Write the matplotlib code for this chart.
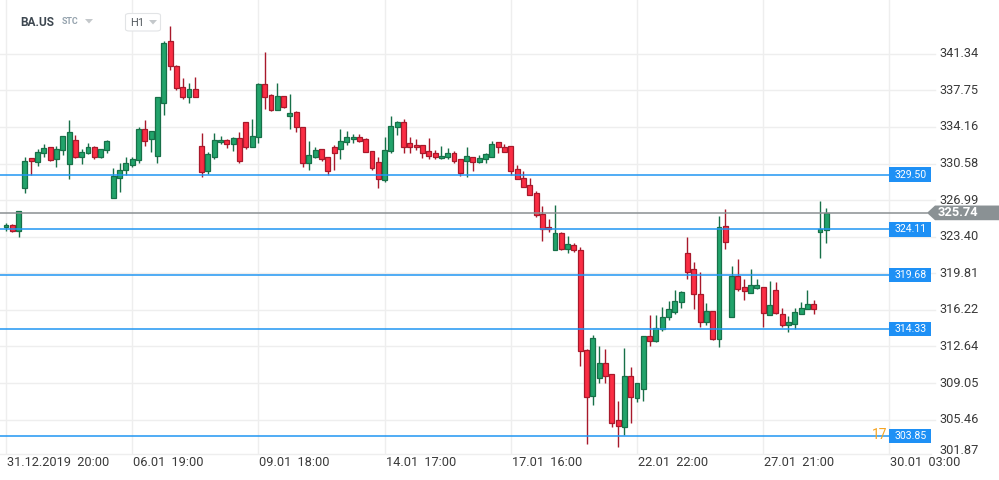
import matplotlib
matplotlib.use("Agg")
import matplotlib.pyplot as plt
from matplotlib.patches import Rectangle, Polygon, FancyBboxPatch
from matplotlib.transforms import blended_transform_factory

plt.rcParams['font.family'] = ['Roboto', 'DejaVu Sans']

# ---------------- data ----------------
symbol = "BA.US"
timeframe = "H1"
opens = [324.33, 324.52, 323.93, 328.15, 331.09, 330.70, 331.58, 332.17, 330.99, 331.87,
         330.50, 332.88, 331.25, 331.58, 332.17, 331.19, 331.87, 327.17, 329.13, 329.91,
         330.40, 330.92, 333.93, 332.95, 331.35, 336.48, 342.56, 340.11, 338.05, 337.13,
         337.86, 332.27, 329.87, 331.25, 332.66, 332.88, 332.46, 333.05, 334.62, 332.23,
         333.15, 338.37, 337.30, 335.80, 337.20, 335.27, 335.63, 334.13, 330.60, 331.25,
         331.97, 331.22, 332.17, 331.97, 332.72, 332.95, 333.15, 332.98, 331.78, 330.70,
         328.96, 331.78, 334.13, 334.65, 332.56, 332.36, 332.36, 331.78, 331.58, 331.09,
         331.19, 331.58, 330.99, 330.86, 331.19, 330.70, 330.99, 331.25, 332.66, 332.17,
         332.27, 330.01, 329.13, 328.44, 327.66, 325.63, 324.33, 322.07, 323.74, 322.17,
         322.56, 322.07, 312.30, 307.82, 309.58, 310.99, 309.91, 305.43, 304.78, 309.75,
         307.56, 308.44, 313.67, 313.21, 314.38, 315.56, 316.05, 317.03, 321.78, 320.21,
         317.76, 315.01, 316.09, 313.34, 324.45, 315.50, 319.58, 318.44, 317.91, 318.40,
         318.50, 315.76, 318.18, 315.80, 314.78, 314.87, 315.85, 316.29, 316.78, 323.89,
         324.06]
highs = [324.72, 324.65, 325.95, 331.25, 331.09, 332.00, 332.49, 332.17, 332.30, 333.25,
         334.85, 333.37, 332.00, 332.56, 332.30, 332.03, 332.88, 330.17, 330.60, 331.25,
         331.25, 334.13, 334.85, 333.74, 337.07, 342.56, 344.06, 340.20, 338.93, 338.44,
         339.03, 333.54, 331.68, 333.54, 333.31, 332.98, 333.21, 333.64, 334.62, 334.91,
         338.44, 341.51, 337.39, 338.44, 337.20, 337.36, 335.76, 334.13, 332.79, 332.17,
         331.97, 331.22, 332.39, 333.93, 333.77, 333.47, 333.47, 333.05, 331.78, 331.19,
         333.15, 335.24, 334.78, 334.91, 333.15, 332.98, 332.36, 333.08, 331.90, 332.30,
         332.10, 331.78, 330.99, 332.17, 331.19, 331.38, 331.58, 332.76, 332.66, 332.49,
         332.27, 330.46, 329.82, 329.13, 327.88, 326.41, 325.14, 326.51, 323.83, 323.47,
         322.76, 322.39, 312.42, 313.77, 312.69, 312.39, 309.91, 307.30, 312.49, 310.66,
         309.03, 313.67, 315.73, 315.73, 316.48, 317.10, 318.18, 318.08, 323.40, 320.95,
         319.94, 316.87, 316.09, 325.43, 326.12, 320.53, 321.22, 319.26, 320.24, 319.26,
         318.50, 319.09, 318.96, 316.41, 315.63, 316.38, 317.00, 318.18, 317.20, 326.90,
         326.22]
lows = [323.99, 323.86, 323.34, 327.72, 329.45, 330.34, 331.25, 330.86, 330.27, 331.41,
        329.03, 331.09, 330.50, 331.51, 330.99, 331.09, 331.64, 327.17, 327.82, 329.45,
        330.27, 330.60, 332.33, 331.74, 330.66, 335.36, 339.78, 337.80, 336.93, 336.48,
        337.07, 329.23, 329.55, 330.99, 332.49, 332.07, 331.84, 330.66, 332.03, 332.23,
        332.62, 335.95, 335.76, 335.80, 336.02, 333.99, 333.70, 330.27, 329.94, 331.09,
        330.86, 329.42, 329.94, 331.05, 332.39, 332.56, 332.72, 331.74, 329.94, 328.21,
        328.80, 331.58, 333.40, 331.64, 331.58, 331.90, 331.09, 331.02, 331.05, 330.99,
        330.99, 330.66, 329.35, 329.29, 329.87, 330.60, 330.66, 331.25, 331.64, 331.74,
        329.45, 329.03, 328.31, 327.52, 325.36, 323.01, 323.89, 322.07, 322.10, 321.84,
        321.93, 310.73, 303.08, 306.90, 309.09, 309.09, 304.78, 302.82, 303.96, 305.17,
        307.23, 307.33, 312.69, 313.11, 314.19, 315.24, 315.83, 316.44, 319.29, 316.32,
        314.58, 314.75, 313.30, 312.62, 322.20, 315.50, 318.11, 317.20, 317.91, 318.28,
        314.58, 315.76, 315.83, 314.52, 314.09, 314.38, 315.80, 316.29, 315.83, 321.35,
        322.82]
closes = [324.55, 323.93, 325.89, 330.80, 330.80, 331.68, 332.07, 330.92, 331.97, 333.25,
          333.64, 331.25, 331.68, 332.17, 331.19, 331.97, 332.76, 329.33, 329.91, 330.60,
          330.99, 333.93, 332.82, 333.74, 337.07, 342.36, 340.11, 337.95, 337.13, 337.86,
          337.13, 329.78, 331.48, 332.88, 332.88, 332.46, 333.05, 330.86, 332.23, 333.25,
          338.37, 337.13, 335.83, 337.20, 336.15, 335.50, 334.19, 330.60, 331.38, 331.90,
          331.05, 329.87, 331.64, 332.79, 333.15, 333.15, 332.79, 331.74, 330.11, 329.03,
          331.90, 334.26, 334.65, 332.17, 332.23, 332.17, 331.58, 331.35, 331.19, 331.32,
          331.58, 330.86, 329.68, 331.32, 330.76, 331.09, 331.48, 332.46, 332.17, 331.74,
          329.87, 329.03, 328.31, 327.52, 325.56, 324.13, 324.13, 323.74, 322.17, 322.66,
          322.07, 312.17, 307.72, 313.44, 310.99, 309.78, 305.17, 304.87, 309.75, 307.72,
          309.03, 313.67, 313.21, 314.42, 315.56, 316.29, 317.07, 317.95, 319.97, 317.76,
          315.01, 316.09, 313.34, 324.33, 322.91, 319.58, 318.31, 318.11, 318.64, 318.64,
          315.89, 316.68, 315.89, 314.78, 315.04, 315.99, 316.41, 316.78, 316.35, 324.13,
          325.74]

price_ticks = [341.34, 337.75, 334.16, 330.58, 326.99, 323.40, 319.81, 316.22,
               312.64, 309.05, 305.46, 301.87]
time_labels = ["31.12.2019  20:00", "06.01  19:00", "09.01  18:00", "14.01  17:00",
               "17.01  16:00", "22.01  22:00", "27.01  21:00", "30.01  03:00"]
label_step = 20
levels = [329.50, 324.11, 319.68, 314.33, 303.85]
last_price = 325.74

# ---------------- style ----------------
W, H = 999, 480
AX_W, AX_H = 889, 454
green_fill, green_edge = '#22a36b', '#177048'
red_fill, red_edge = '#fb2d44', '#a8192b'
grid_c = '#eeeeee'
level_c = '#2196f3'
text_c = '#3a3a3a'

fig = plt.figure(figsize=(W / 100, H / 100), dpi=100)
ax = fig.add_axes([0, (H - AX_H) / H, AX_W / W, AX_H / H])
px_per_bar = 6.31
x_left = -6 / px_per_bar
x_right = x_left + AX_W / px_per_bar
ax.set_xlim(x_left, x_right)
y_top, y_bot = 346.61, 302.10
ax.set_ylim(y_bot, y_top)
for s in ax.spines.values():
    s.set_visible(False)
ax.set_xticks([])
ax.set_yticks([])

bt = blended_transform_factory(ax.transAxes, ax.transData)   # x axes, y data
bx = blended_transform_factory(ax.transData, ax.transAxes)   # x data, y axes

# horizontal grid lines (extend into price scale area)
grid_ext = 935 / AX_W
for p in price_ticks:
    if y_bot < p < y_top:
        ax.plot([0, grid_ext], [p, p], transform=bt, color=grid_c, lw=1, zorder=0, clip_on=False)
# bottom boundary
ax.plot([0, 931 / AX_W], [0, 0], transform=ax.transAxes, color=grid_c, lw=1, zorder=0, clip_on=False)
# vertical grid lines
for k in range(len(time_labels) - 1):
    ax.axvline(k * label_step, color=grid_c, lw=1, zorder=0)
ax.plot([1, 1], [0, 1], transform=ax.transAxes, color=grid_c, lw=1, zorder=0, clip_on=False)

# candles
n = len(opens)
bw = 0.78
for i in range(n):
    o, h, l, c = opens[i], highs[i], lows[i], closes[i]
    up = c >= o
    fc = green_fill if up else red_fill
    ec = green_edge if up else red_edge
    ax.plot([i, i], [l, h], color=ec, lw=1.0, zorder=2, solid_capstyle='butt')
    lo, hi = min(o, c), max(o, c)
    hgt = max(hi - lo, 0.12)
    ax.add_patch(Rectangle((i - bw / 2, lo), bw, hgt, facecolor=fc, edgecolor=ec,
                           lw=0.9, zorder=3))

# level lines with blue tags
for lv in levels:
    ax.plot([0, 1], [lv, lv], transform=bt, color=level_c, lw=1.1, zorder=4, clip_on=False)
    ax.add_patch(Rectangle((1.0005, lv - 0.70), 42 / AX_W, 1.40, transform=bt,
                           facecolor='#1e90f5', edgecolor='none', zorder=6, clip_on=False))
    ax.text(1.0005 + 21 / AX_W, lv, f"{lv:.2f}", transform=bt, color='white',
            fontsize=7.6, ha='center', va='center', zorder=7, clip_on=False)

# orange label next to the lowest level
ax.text(0.998, levels[-1] + 0.1, "17", transform=bt, color='#f5a524', fontsize=10,
        ha='right', va='center', zorder=7, clip_on=False)

# last price line and tag
ax.plot([0, 927 / AX_W], [last_price, last_price], transform=bt, color='#8a8f92',
        lw=1.1, zorder=4, clip_on=False)
tip = 927 / AX_W
body = 935 / AX_W
end = W / AX_W
hh = 0.72
ax.add_patch(Polygon([(tip, last_price), (body, last_price + hh), (end, last_price + hh),
                      (end, last_price - hh), (body, last_price - hh)], closed=True,
                     transform=bt, facecolor='#8a9194', edgecolor='none', zorder=6, clip_on=False))
ax.text(938 / AX_W, last_price, f"{last_price:.2f}", transform=bt, color='white',
        fontsize=9.3, fontweight='bold', ha='left', va='center', zorder=7, clip_on=False)

# price scale labels
for p in price_ticks:
    yp = max(p, y_bot + 0.3)
    ax.text(939 / AX_W, yp, f"{p:.2f}", transform=bt, color=text_c, fontsize=9.2,
            ha='left', va='center', zorder=5, clip_on=False)

# time labels
for k, lab in enumerate(time_labels):
    ax.text(k * label_step + 0.15, -9 / AX_H, lab, transform=bx, color=text_c,
            fontsize=9.2, ha='left', va='center', clip_on=False)

# header
fig.text(20 / W, 1 - 22 / H, symbol, color='#3d4750', fontsize=8.6, fontweight='bold',
         ha='left', va='center')
fig.text(62 / W, 1 - 22 / H, "STC", color='#95a3ae', fontsize=6.4, fontweight='bold',
         ha='left', va='center')
fig.patches.append(Polygon([(85 / W, 1 - 19 / H), (93 / W, 1 - 19 / H), (89 / W, 1 - 23.5 / H)],
                           closed=True, transform=fig.transFigure, facecolor='#c4c8cb',
                           edgecolor='none'))
fig.patches.append(FancyBboxPatch((125.5 / W, 1 - 31 / H), 35 / W, 17.5 / H,
                                  boxstyle='round,pad=0,rounding_size=0.004',
                                  transform=fig.transFigure, facecolor='white',
                                  edgecolor='#e2e4e6', lw=0.8))
fig.text(130 / W, 1 - 22.5 / H, timeframe, color='#555b60', fontsize=8.0,
         ha='left', va='center')
fig.patches.append(Polygon([(149 / W, 1 - 20 / H), (157 / W, 1 - 20 / H), (153 / W, 1 - 24.5 / H)],
                           closed=True, transform=fig.transFigure, facecolor='#c4c8cb',
                           edgecolor='none'))

fig.savefig("out.png", dpi=100, facecolor='white')
